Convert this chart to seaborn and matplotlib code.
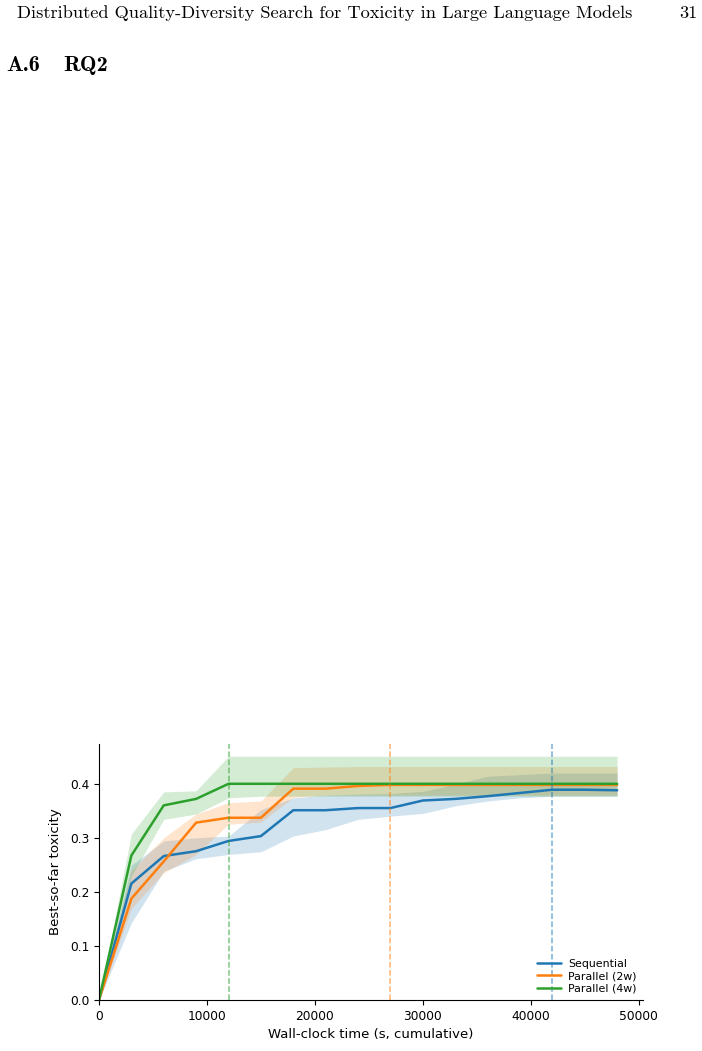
import numpy as np
import pandas as pd
import matplotlib
matplotlib.use("Agg")
import matplotlib.pyplot as plt
import seaborn as sns

# wall-clock checkpoints (s)
time_s = [0, 3000, 6000, 9000, 12000, 15000, 18000, 21000, 24000,
          27000, 30000, 33000, 36000, 39000, 42000, 45000, 48000]

# mean best-so-far toxicity
seq_mean = [0.0, 0.216, 0.267, 0.276, 0.295, 0.304, 0.352, 0.352, 0.356,
            0.356, 0.370, 0.373, 0.378, 0.384, 0.390, 0.390, 0.389]
p2_mean = [0.0, 0.188, 0.257, 0.329, 0.338, 0.338, 0.392, 0.392, 0.397,
           0.399, 0.399, 0.399, 0.399, 0.399, 0.399, 0.399, 0.399]
p4_mean = [0.0, 0.268, 0.361, 0.373, 0.401, 0.401, 0.401, 0.401, 0.401,
           0.401, 0.401, 0.401, 0.401, 0.401, 0.401, 0.401, 0.401]

# spread bands (lower / upper)
seq_lo = [0.0, 0.143, 0.239, 0.262, 0.270, 0.275, 0.304, 0.316, 0.335,
          0.341, 0.346, 0.360, 0.369, 0.375, 0.378, 0.378, 0.378]
seq_hi = [0.0, 0.250, 0.295, 0.301, 0.304, 0.353, 0.375, 0.380, 0.382,
          0.383, 0.387, 0.400, 0.415, 0.418, 0.421, 0.421, 0.421]
p2_lo = [0.0, 0.170, 0.236, 0.270, 0.326, 0.330, 0.376, 0.380, 0.380,
         0.380, 0.380, 0.380, 0.380, 0.380, 0.380, 0.380, 0.380]
p2_hi = [0.0, 0.240, 0.301, 0.345, 0.366, 0.369, 0.431, 0.432, 0.433,
         0.433, 0.433, 0.433, 0.433, 0.433, 0.433, 0.433, 0.433]
p4_lo = [0.0, 0.230, 0.335, 0.345, 0.375, 0.378, 0.378, 0.378, 0.378,
         0.378, 0.378, 0.378, 0.378, 0.378, 0.378, 0.378, 0.378]
p4_hi = [0.0, 0.308, 0.386, 0.388, 0.452, 0.452, 0.452, 0.452, 0.452,
         0.452, 0.452, 0.452, 0.452, 0.452, 0.452, 0.452, 0.452]

series_names = ["Sequential", "Parallel (2w)", "Parallel (4w)"]
# time at which each variant reaches its final level
plateau_time = [42000, 27000, 12000]

colors = ["#1f77b4", "#ff7f0e", "#2ca02c"]

sns.set_style("ticks", {"axes.edgecolor": "black", "xtick.color": "black",
                        "ytick.color": "black", "text.color": "black",
                        "axes.labelcolor": "black"})

df = pd.concat([
    pd.DataFrame({"time": time_s, "tox": m, "variant": n})
    for m, n in zip([seq_mean, p2_mean, p4_mean], series_names)
])

fig = plt.figure(figsize=(7.02, 10.51), dpi=100)

# page header text
fig.text(0.024, 0.983, "Distributed Quality-Diversity Search for Toxicity in Large Language Models",
         family="cmr10", fontsize=13.2, va="baseline", ha="left")
fig.text(0.993, 0.983, "31", family="cmr10", fontsize=13.2, va="baseline", ha="right")
fig.text(0.009, 0.932, "A.6", family="cmb10", fontsize=16, va="baseline", ha="left")
fig.text(0.090, 0.932, "RQ2", family="cmb10", fontsize=16, va="baseline", ha="left")

ax = fig.add_axes([0.141, 0.0485, 0.775, 0.2435])

sns.lineplot(data=df, x="time", y="tox", hue="variant", hue_order=series_names,
             palette=colors, linewidth=1.8, ax=ax)

for lo, hi, c in zip([seq_lo, p2_lo, p4_lo], [seq_hi, p2_hi, p4_hi], colors):
    ax.fill_between(time_s, lo, hi, color=c, alpha=0.2, linewidth=0)

for t, c in zip(plateau_time, colors):
    ax.axvline(t, color=c, linestyle="--", linewidth=1.1, alpha=0.6)

ax.set_xlim(left=0)
ax.set_ylim(bottom=0)
ax.set_xlabel("Wall-clock time (s, cumulative)", fontsize=9.5)
ax.set_ylabel("Best-so-far toxicity", fontsize=9.6, labelpad=6)
ax.tick_params(labelsize=8.8)
ax.legend(loc="lower right", frameon=False, fontsize=7.9, title=None,
          labelspacing=0.25, handlelength=2.2, handletextpad=0.7,
          borderaxespad=0.2, borderpad=0.35)
sns.despine(ax=ax)

fig.savefig("out.png", dpi=100)
